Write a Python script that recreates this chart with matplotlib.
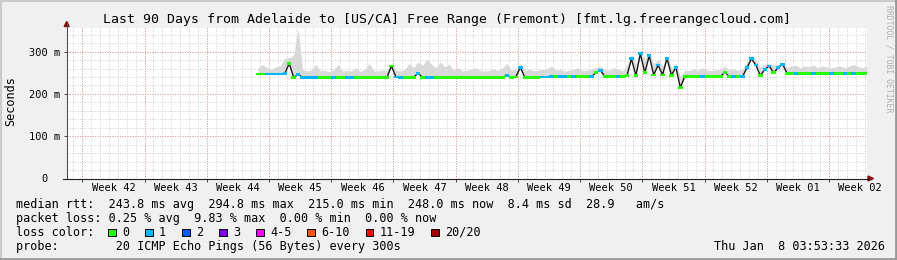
import numpy as np
import matplotlib
matplotlib.use("Agg")
import matplotlib.pyplot as plt
from matplotlib.patches import Rectangle, Polygon
from matplotlib.lines import Line2D

plt.rcParams['font.family'] = ['DejaVu Sans Mono']

# one sample every 12 h, in days since the start of the 90 day window
sample_start, sample_step = 21.5, 0.5

median_ms = [
    247, 247, 247, 247, 247, 247, 248, 272, 239, 246,
    239, 239, 239, 239, 239, 239, 239, 239, 239, 239,
    239, 239, 239, 239, 239, 239, 239, 239, 239, 239,
    266, 240, 239, 239, 239, 239, 249, 239, 239, 239,
    239, 239, 239, 239, 239, 239, 239, 239, 239, 239,
    239, 239, 239, 239, 239, 239, 244, 239, 240, 263,
    239, 239, 239, 239, 240, 240, 241, 241, 241, 241,
    241, 241, 241, 241, 241, 241, 250, 256, 241, 241,
    241, 241, 241, 243, 283, 243, 295, 250, 290, 245,
    268, 245, 284, 244, 263, 215, 241, 241, 241, 241,
    241, 241, 241, 241, 241, 251, 241, 241, 241, 241,
    262, 283, 268, 243, 258, 266, 250, 262, 270, 249,
    249, 249, 249, 249, 249, 249, 249, 249, 249, 249,
    249, 249, 249, 249, 249, 249, 249, 249,
]

smoke_top_ms = [
    262, 270, 262, 258, 264, 266, 284, 286, 292, 354,
    258, 254, 256, 270, 254, 256, 252, 258, 270, 254,
    256, 254, 262, 253, 258, 272, 255, 254, 257, 256,
    272, 256, 254, 258, 272, 262, 276, 268, 282, 270,
    262, 276, 264, 270, 256, 262, 254, 256, 258, 262,
    255, 254, 256, 258, 255, 262, 272, 256, 258, 272,
    256, 258, 255, 256, 258, 260, 266, 256, 258, 254,
    256, 258, 262, 255, 256, 258, 262, 266, 258, 256,
    262, 258, 255, 268, 292, 270, 305, 282, 298, 272,
    282, 266, 290, 262, 272, 240, 256, 255, 258, 256,
    262, 256, 255, 257, 258, 266, 256, 258, 256, 258,
    276, 292, 280, 262, 270, 272, 268, 270, 276, 262,
    266, 268, 262, 266, 264, 268, 262, 266, 264, 262,
    264, 266, 262, 266, 270, 264, 262, 266,
]

# lost pings out of 20 for each sample
lost_pings = [
    0, 0, 1, 1, 1, 1, 1, 0, 0, 1,
    1, 1, 1, 1, 0, 0, 0, 1, 0, 0,
    1, 1, 0, 0, 0, 0, 0, 0, 0, 0,
    0, 1, 1, 0, 0, 0, 1, 0, 1, 1,
    0, 0, 0, 0, 0, 0, 0, 0, 0, 0,
    0, 0, 0, 0, 0, 0, 1, 0, 0, 1,
    0, 0, 0, 0, 1, 1, 1, 0, 1, 1,
    0, 1, 0, 0, 0, 1, 0, 1, 0, 0,
    0, 1, 0, 0, 1, 0, 1, 0, 1, 0,
    1, 0, 1, 0, 1, 0, 0, 0, 0, 0,
    1, 0, 0, 0, 0, 0, 0, 1, 0, 1,
    1, 1, 1, 0, 1, 1, 0, 1, 1, 0,
    0, 1, 0, 0, 0, 1, 0, 0, 0, 1,
    0, 0, 1, 0, 1, 0, 0, 0,
]

loss_labels = ["0", "1", "2", "3", "4-5", "6-10", "11-19", "20/20"]
loss_upper = [0, 1, 2, 3, 5, 10, 19, 20]
loss_colors = ["#26ff00", "#00b8ff", "#0059ff", "#7e00ff",
               "#ff00ff", "#ff5500", "#ff0000", "#a10000"]

week_labels = ["Week 42", "Week 43", "Week 44", "Week 45", "Week 46", "Week 47",
               "Week 48", "Week 49", "Week 50", "Week 51", "Week 52", "Week 01",
               "Week 02"]
first_week_start = 1.73   # day offset of the first Monday in the window
window_days = 90

y_ticks = [0, 100, 200, 300]
y_tick_labels = ["0  ", "100 m", "200 m", "300 m"]
y_max = 357

title = "Last 90 Days from Adelaide to [US/CA] Free Range (Fremont) [fmt.lg.freerangecloud.com]"
legend_rows = [
    "median rtt:  243.8 ms avg  294.8 ms max  215.0 ms min  248.0 ms now  8.4 ms sd  28.9   am/s",
    "packet loss: 0.25 % avg  9.83 % max  0.00 % min  0.00 % now",
    "loss color:",
    "probe:        20 ICMP Echo Pings (56 Bytes) every 300s",
]
timestamp = "Thu Jan  8 03:53:33 2026"

W, H = 897, 260


def fx(x):
    return x / W


def fy(y):
    return 1 - y / H


def loss_color(n):
    for upper, col in zip(loss_upper, loss_colors):
        if n <= upper:
            return col
    return loss_colors[-1]


median = np.array(median_ms, dtype=float)
smoke_top = np.array(smoke_top_ms, dtype=float)
days = sample_start + sample_step * np.arange(len(median))

fig = plt.figure(figsize=(W / 100, H / 100), dpi=100, facecolor="#f0f0f0")

# bevelled frame
fig.add_artist(Line2D([0, 1], [fy(0.5), fy(0.5)], color="#cbcbcb", lw=1.5))
fig.add_artist(Line2D([fx(0.5), fx(0.5)], [0, 1], color="#cbcbcb", lw=1.5))
fig.add_artist(Line2D([0, 1], [fy(258.8), fy(258.8)], color="#999999", lw=2))
fig.add_artist(Line2D([fx(895.8), fx(895.8)], [0, 1], color="#999999", lw=2))

ax = fig.add_axes([fx(67), fy(178.5), 800 / W, 151 / H])
ax.set_facecolor("white")
ax.set_xlim(0, window_days)
ax.set_ylim(0, y_max)
for s in ax.spines.values():
    s.set_visible(False)

# grid
minor_x = np.arange(first_week_start - 1, window_days, 1.0)
major_x = np.arange(first_week_start, window_days, 7.0)
for d in minor_x:
    ax.axvline(d, color="#d0d0d0", lw=0.72, ls=(0, (1, 1.5)), zorder=1)
for v in range(20, y_max, 20):
    ax.axhline(v, color="#d0d0d0", lw=0.72, ls=(0, (1, 1.5)), zorder=1)
for d in major_x:
    ax.axvline(d, color="#f09a9a", lw=0.72, ls=(0, (1, 1.5)), zorder=1.5)
for v in y_ticks[1:]:
    ax.axhline(v, color="#f09a9a", lw=0.72, ls=(0, (1, 1.5)), zorder=1.5)

# smoke, median line and loss coloured band
ax.fill_between(days, median, smoke_top, color="#d9d9d9", lw=0, zorder=2)
ax.plot(days, median, color="#1a1a1a", lw=1.0, zorder=3)
half_band = 3.2
ax.bar(days, 2 * half_band, bottom=median - half_band, width=sample_step,
       color=[loss_color(n) for n in lost_pings], linewidth=0, zorder=4)

# ticks
ax.set_yticks(y_ticks)
ax.set_yticklabels(y_tick_labels, fontsize=7.5)
ax.tick_params(axis="y", length=2.2, width=0.7, pad=2.6, color="#404040")
ax.set_xticks(major_x)
ax.set_xticklabels([])
ax.set_xticks(major_x + 3.5, minor=True)
ax.set_xticklabels(week_labels, minor=True, fontsize=7.5)
ax.tick_params(axis="x", which="major", length=2.2, width=0.7, color="#404040")
ax.tick_params(axis="x", which="minor", length=0, pad=3.2)

# axes with arrows
fig.add_artist(Line2D([fx(66.7), fx(66.7)], [fy(178.5), fy(24)], color="#505050", lw=0.8))
fig.add_artist(Line2D([fx(63), fx(869)], [fy(178.5), fy(178.5)], color="#202020", lw=0.8))
fig.add_artist(Polygon([(fx(64.2), fy(26.5)), (fx(69.2), fy(26.5)), (fx(66.7), fy(21.5))],
                       closed=True, color="#8b1010", transform=fig.transFigure))
fig.add_artist(Polygon([(fx(868), fy(176)), (fx(868), fy(181)), (fx(873.5), fy(178.5))],
                       closed=True, color="#8b1010", transform=fig.transFigure))

# texts
fig.text(fx(447), fy(19), title, ha="center", va="center", fontsize=9.5)
fig.text(fx(10.5), fy(101), "Seconds", rotation=90, ha="center", va="center", fontsize=8.5)
fig.text(fx(889), fy(59), "RRDTOOL / TOBI OETIKER", rotation=270, ha="center",
         va="center", fontsize=5.9, color="#b0b0b0")

row_y = [204.3, 218.2, 232.3, 246.2]
for txt, y in zip(legend_rows, row_y):
    fig.text(fx(15.5), fy(y), txt, ha="left", va="center", fontsize=8.5)
fig.text(fx(713.5), fy(row_y[3]), timestamp, ha="left", va="center", fontsize=8.5)

cw = 7.107
bx = 16 + 13 * cw
for lab, col in zip(loss_labels, loss_colors):
    fig.add_artist(Rectangle((fx(bx), fy(236)), 7.5 / W, 7.5 / H, facecolor=col,
                             edgecolor="black", lw=0.7, transform=fig.transFigure))
    fig.text(fx(bx + 2 * cw - 0.5), fy(row_y[2]), lab, ha="left", va="center", fontsize=8.5)
    bx += (len(lab) + 4.2) * cw

fig.savefig("out.png", dpi=100, facecolor=fig.get_facecolor())
